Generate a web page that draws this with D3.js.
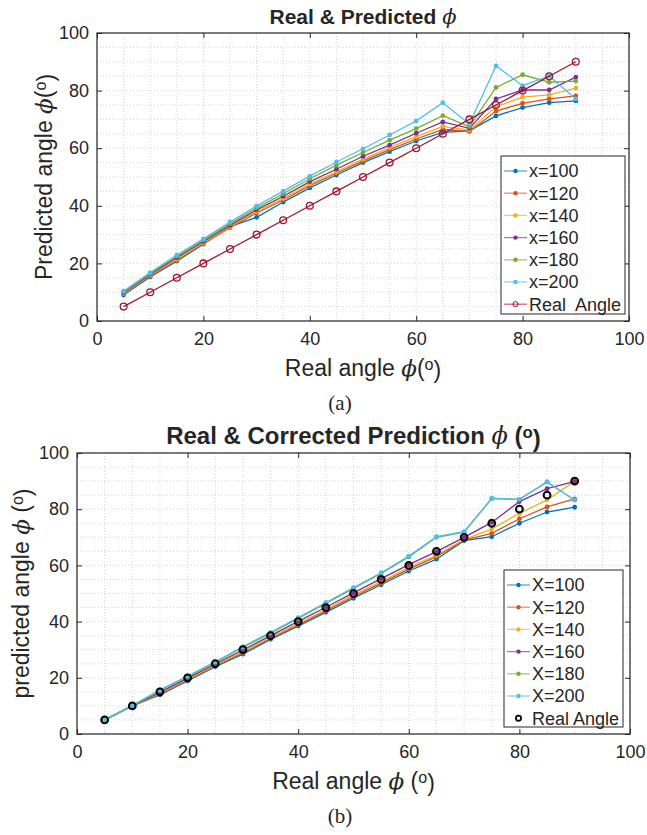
<!DOCTYPE html>
<html>
<head>
<meta charset="utf-8">
<script src="https://cdn.jsdelivr.net/npm/d3@7"></script>
<style>
	body { margin: 0; background: #fff; }
	text { font-family: "Liberation Sans", Arial, sans-serif; fill: #262626; }
	.phi { font-family: "DejaVu Serif", "Liberation Serif", serif; font-style: italic; }
	.caption { font-family: "Liberation Serif", "Times New Roman", serif; }
</style>
</head>
<body>
<div class="chart"></div>
<script>
// real angle (x axis) and tick values
const angles = [5, 10, 15, 20, 25, 30, 35, 40, 45, 50, 55, 60, 65, 70, 75, 80, 85, 90];
const ticks = [0, 20, 40, 60, 80, 100];
const colors = ["#0072BD", "#D95319", "#EDB120", "#7E2F8E", "#77AC30", "#4DBEEE"];

// (a) predicted angle
const namesA = ["x=100", "x=120", "x=140", "x=160", "x=180", "x=200"];
const predA100 = [9.0, 15.3, 20.8, 26.7, 32.8, 36.0, 41.3, 46.2, 50.7, 55.0, 58.8, 62.5, 65.5, 66.0, 71.2, 74.1, 75.8, 76.4];
const predA120 = [9.3, 15.6, 21.1, 26.9, 32.4, 37.5, 42.0, 47.0, 51.3, 55.6, 59.5, 63.2, 66.5, 65.8, 72.9, 75.6, 77.1, 78.2];
const predA140 = [9.5, 15.9, 21.5, 27.2, 32.8, 38.0, 42.6, 47.6, 51.8, 56.2, 60.2, 64.0, 67.6, 66.3, 74.4, 77.7, 78.5, 80.9];
const predA160 = [9.7, 16.2, 22.0, 27.6, 33.2, 38.6, 43.3, 48.4, 52.7, 57.2, 61.1, 65.2, 69.1, 66.9, 77.1, 80.2, 80.2, 84.7];
const predA180 = [10.0, 16.5, 22.5, 28.1, 33.8, 39.3, 44.2, 49.4, 54.1, 58.5, 62.8, 66.8, 71.3, 67.5, 81.1, 85.5, 82.9, 83.3];
const predA200 = [10.4, 16.8, 22.9, 28.5, 34.4, 40.0, 45.1, 50.3, 55.2, 59.8, 64.6, 69.5, 75.8, 68.4, 88.6, 81.7, 85.1, 77.1];

// (b) corrected prediction
const namesB = ["X=100", "X=120", "X=140", "X=160", "X=180", "X=200"];
const corrB100 = [5, 10, 13.9, 18.9, 24.0, 28.4, 33.7, 38.4, 43.3, 48.3, 53.1, 58.0, 62.2, 68.8, 70.2, 75.0, 79.0, 80.7];
const corrB120 = [5, 10, 14.2, 19.2, 24.3, 28.9, 34.1, 38.9, 43.8, 48.9, 53.7, 58.7, 63.1, 69.0, 71.4, 76.6, 80.8, 83.7];
const corrB140 = [5, 10, 14.4, 19.5, 24.5, 29.3, 34.4, 39.3, 44.3, 49.4, 54.3, 59.3, 63.7, 69.2, 73.0, 78.5, 83.3, 90.0];
const corrB160 = [5, 10, 14.8, 19.9, 24.9, 29.9, 35.0, 40.1, 45.1, 50.2, 55.3, 60.3, 64.9, 70.0, 75.3, 82.7, 87.3, 89.9];
const corrB180 = [5, 10.1, 15.5, 20.4, 25.5, 30.8, 35.9, 41.1, 46.5, 51.8, 57.1, 63.0, 70.0, 71.8, 83.8, 83.5, 89.6, 83.3];
const corrB200 = [5, 10.1, 15.7, 20.6, 25.7, 31.1, 36.2, 41.4, 46.8, 52.1, 57.4, 63.3, 70.2, 72.0, 83.9, 83.5, 89.8, 83.2];

(function() {

	const svg = d3.select(".chart").append("svg")
		.attr("width", 647)
		.attr("height", 835);

	const PHI = "\u03d5";

	function degLabel(sel, pre, gap) {
		sel.append("tspan").text(pre);
		sel.append("tspan").attr("class", "phi").text(PHI);
		sel.append("tspan").text(gap + "(");
		sel.append("tspan").attr("font-size", "0.7em").attr("dy", "-0.35em").text("o");
		sel.append("tspan").attr("dy", "0.35em").text(")");
	}

	function drawPanel(p) {
		const x = d3.scaleLinear().domain([0, 100]).range([p.left, p.right]);
		const y = d3.scaleLinear().domain([0, 100]).range([p.bottom, p.top]);
		const g = svg.append("g");

		// grid, every 5
		const grid = d3.range(0, 101, 5);
		g.append("g").selectAll("line.gx")
			.data(grid)
			.enter().append("line")
			.attr("x1", d => x(d)).attr("x2", d => x(d))
			.attr("y1", p.top).attr("y2", p.bottom)
			.attr("stroke", "#c8c8c8").attr("stroke-width", 0.8)
			.attr("stroke-dasharray", "1,2");
		g.append("g").selectAll("line.gy")
			.data(grid)
			.enter().append("line")
			.attr("y1", d => y(d)).attr("y2", d => y(d))
			.attr("x1", p.left).attr("x2", p.right)
			.attr("stroke", "#c8c8c8").attr("stroke-width", 0.8)
			.attr("stroke-dasharray", "1,2");

		// axes with inward ticks
		const ax = [
			[d3.axisBottom(x), p.bottom, 0, true],
			[d3.axisTop(x), p.top, 0, false],
			[d3.axisLeft(y), 0, p.left, true],
			[d3.axisRight(y), 0, p.right, false]
		];
		ax.forEach(([a, ty, tx, labels], i) => {
			a.tickValues(ticks).tickSize(-5).tickPadding(i < 2 ? 11 : 8);
			if (!labels) a.tickFormat("");
			const ag = g.append("g")
				.attr("transform", "translate(" + tx + "," + ty + ")")
				.call(a);
			ag.select(".domain").remove();
			ag.selectAll("line").attr("stroke", "#262626").attr("stroke-width", 1);
			ag.selectAll("text")
				.attr("font-size", 18)
				.attr("font-family", "'Liberation Sans', Arial, sans-serif")
				.attr("fill", "#262626");
		});

		// series
		const line = d3.line().x((d, i) => x(angles[i])).y(d => y(d));
		p.series.forEach((s, k) => {
			const sg = g.append("g");
			sg.append("path")
				.datum(s)
				.attr("d", line)
				.attr("fill", "none")
				.attr("stroke", colors[k])
				.attr("stroke-width", 1.3);
			sg.selectAll("circle")
				.data(s)
				.enter().append("circle")
				.attr("cx", (d, i) => x(angles[i]))
				.attr("cy", d => y(d))
				.attr("r", 2.4)
				.attr("fill", colors[k]);
		});

		// real angle
		const rg = g.append("g");
		if (p.realLine) {
			rg.append("path")
				.datum(angles)
				.attr("d", line)
				.attr("fill", "none")
				.attr("stroke", p.realColor)
				.attr("stroke-width", 1.3);
		}
		rg.selectAll("circle")
			.data(angles)
			.enter().append("circle")
			.attr("cx", d => x(d))
			.attr("cy", d => y(d))
			.attr("r", p.realR)
			.attr("fill", "none")
			.attr("stroke", p.realColor)
			.attr("stroke-width", p.realW);

		// box
		g.append("rect")
			.attr("x", p.left).attr("y", p.top)
			.attr("width", p.right - p.left).attr("height", p.bottom - p.top)
			.attr("fill", "none").attr("stroke", "#262626").attr("stroke-width", 1.2);

		// legend
		const L = p.legend;
		const lg = g.append("g").attr("transform", "translate(" + L.x + "," + L.y + ")");
		lg.append("rect")
			.attr("width", L.w).attr("height", L.h)
			.attr("fill", "#fff").attr("stroke", "#262626").attr("stroke-width", 1);
		const items = p.names.map((n, k) => ({name: n, color: colors[k], real: false}))
			.concat([{name: p.realName, color: p.realColor, real: true}]);
		const row = lg.selectAll(".row")
			.data(items)
			.enter().append("g")
			.attr("transform", (d, i) => "translate(0," + (15 + i * 22.2) + ")");
		row.filter(d => !d.real || p.realLine).append("line")
			.attr("x1", 3).attr("x2", 26)
			.attr("stroke", d => d.color).attr("stroke-width", 1.3)
			.attr("stroke-opacity", 0.65);
		row.filter(d => !d.real).append("circle")
			.attr("cx", 14.5).attr("r", 2.2).attr("fill", d => d.color);
		row.filter(d => d.real).append("circle")
			.attr("cx", 14.5).attr("r", p.realR - 0.8)
			.attr("fill", "none").attr("stroke", p.realColor).attr("stroke-width", p.realW - 0.3);
		row.append("text")
			.attr("x", 28).attr("dy", "0.36em")
			.attr("font-size", 18)
			.style("white-space", "pre")
			.text(d => d.name);

		// title
		const t = g.append("text")
			.attr("x", (p.left + p.right) / 2).attr("y", p.top - 9)
			.attr("text-anchor", "middle")
			.attr("font-size", p.titleSize).attr("font-weight", "bold");
		t.append("tspan").text(p.title + " ");
		t.append("tspan").attr("class", "phi").attr("font-weight", "normal").text(PHI);
		if (p.titleDeg) {
			t.append("tspan").text(" (");
			t.append("tspan").attr("font-size", "0.7em").attr("dy", "-0.35em").text("o");
			t.append("tspan").attr("dy", "0.35em").text(")");
		}

		// axis labels
		g.append("text")
			.attr("x", (p.left + p.right) / 2).attr("y", p.bottom + 55)
			.attr("text-anchor", "middle").attr("font-size", 23)
			.call(degLabel, "Real angle ", p.gap);
		g.append("text")
			.attr("transform", "translate(" + p.ylabX + "," + (p.top + p.bottom) / 2 + ") rotate(-90)")
			.attr("text-anchor", "middle").attr("dy", "0.35em").attr("font-size", 23)
			.call(degLabel, p.ylab, p.gap);

		// caption
		svg.append("text")
			.attr("class", "caption")
			.attr("x", 340).attr("y", p.bottom + 89)
			.attr("text-anchor", "middle").attr("font-size", 21)
			.text(p.caption);
	}

	drawPanel({
		left: 97, right: 629, top: 33, bottom: 321,
		series: [predA100, predA120, predA140, predA160, predA180, predA200],
		names: namesA,
		realName: "Real  Angle", realColor: "#A2142F", realLine: true, realR: 3.4, realW: 1.3,
		legend: {x: 501, y: 156, w: 124, h: 158},
		title: "Real & Predicted", titleDeg: false, titleSize: 21,
		ylab: "Predicted angle ", ylabX: 44, gap: "",
		caption: "(a)"
	});

	drawPanel({
		left: 77, right: 630, top: 453, bottom: 734,
		series: [corrB100, corrB120, corrB140, corrB160, corrB180, corrB200],
		names: namesB,
		realName: "Real Angle", realColor: "#000", realLine: false, realR: 3.4, realW: 2,
		legend: {x: 504, y: 570, w: 119, h: 157},
		title: "Real & Corrected Prediction", titleDeg: true, titleSize: 24,
		ylab: "predicted angle ", ylabX: 21, gap: " ",
		caption: "(b)"
	});

})();
</script>
</body>
</html>
